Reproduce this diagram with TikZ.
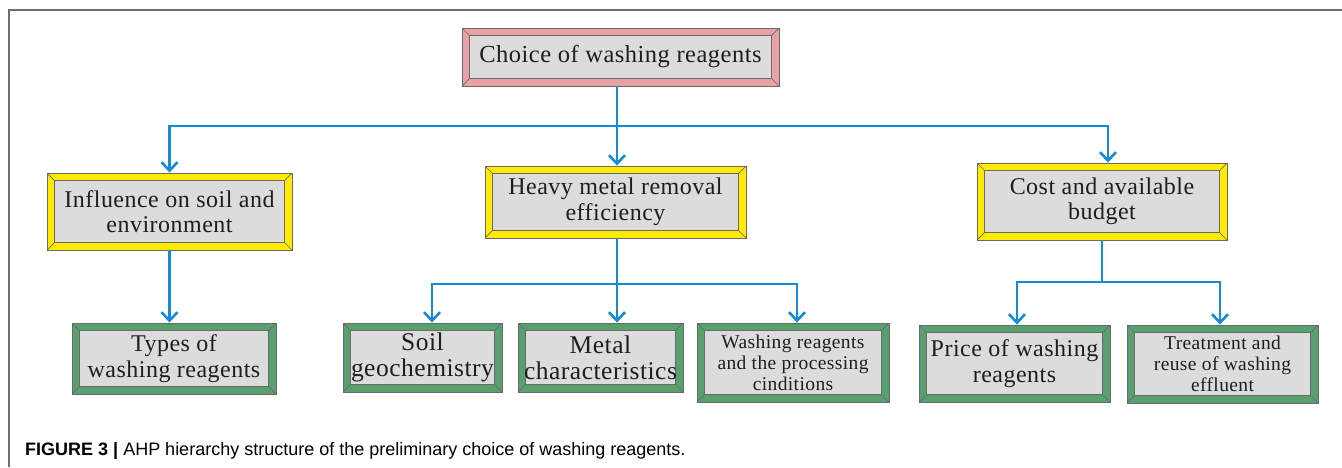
\documentclass[tikz,border=0pt]{standalone}
\usepackage{fontspec}
\setmainfont{Liberation Serif}[LetterSpace=2]
\newfontfamily\capfont{Liberation Sans}
\usetikzlibrary{arrows.meta}
\definecolor{bpink}{RGB}{232,162,166}
\definecolor{byellow}{RGB}{255,234,0}
\definecolor{bgreen}{RGB}{88,160,110}
\definecolor{boxgray}{RGB}{220,220,220}
\definecolor{bedge}{RGB}{105,105,105}
\definecolor{cblue}{RGB}{22,140,215}
\definecolor{txt}{RGB}{30,30,30}
\definecolor{framec}{RGB}{110,110,110}
\tikzset{
  bevel/.style={rectangle, draw=bedge, line width=0.9pt, fill=#1, inner sep=0pt, align=center, text=txt,
    path picture={
      \coordinate (pa) at (path picture bounding box.south west);
      \coordinate (pb) at (path picture bounding box.north east);
      \coordinate (pc) at (path picture bounding box.north west);
      \coordinate (pd) at (path picture bounding box.south east);
      \filldraw[fill=boxgray, draw=bedge, line width=0.7pt] ([shift={(7.5pt,7.5pt)}]pa) rectangle ([shift={(-7.5pt,-7.5pt)}]pb);
      \draw[bedge, line width=0.7pt] (pa) -- ([shift={(7.5pt,7.5pt)}]pa) (pb) -- ([shift={(-7.5pt,-7.5pt)}]pb)
        (pc) -- ([shift={(7.5pt,-7.5pt)}]pc) (pd) -- ([shift={(-7.5pt,7.5pt)}]pd);
    }},
  big/.style={font=\fontsize{24}{25.5}\selectfont},
  huge/.style={font=\fontsize{25.5}{26}\selectfont},
  small/.style={font=\fontsize{19.5}{21}\selectfont},
  conn/.style={draw=cblue, line width=2.6pt},
  arr/.style={conn, -{Straight Barb[length=8.5pt,width=16pt]}},
}
\begin{document}
\begin{tikzpicture}[x=1pt,y=-1pt]
\useasboundingbox (0,0) rectangle (1342,467);
\coordinate (f1) at (9,467);
\coordinate (f2) at (9,10);
\coordinate (f3) at (1342,10);
\draw[framec, line width=1.5pt] (f1) -- (f2) -- (f3);

\node[bevel=bpink, minimum width=317pt, minimum height=58pt, font=\fontsize{24.5}{26}\selectfont] (top) at (620.5,57) {Choice of washing reagents};

\node[bevel=byellow, minimum width=245pt, minimum height=77pt, big] (infl) at (169.5,211.5) {Influence on soil and\\environment};
\node[bevel=byellow, minimum width=261pt, minimum height=72pt, big] (heavy) at (615.5,202) {Heavy metal removal\\efficiency};
\node[bevel=byellow, minimum width=250pt, minimum height=77pt, big] (cost) at (1102,201.5) {Cost and available\\budget};

\node[bevel=bgreen, minimum width=204pt, minimum height=71pt, big] (types) at (174,358.5) {Types of\\washing reagents};
\node[bevel=bgreen, minimum width=159pt, minimum height=69pt, huge] (soil) at (422.5,357.5) {Soil\\geochemistry};
\node[bevel=bgreen, minimum width=165pt, minimum height=69pt, huge] (metal) at (600.5,357.5) {Metal\\characteristics};
\node[bevel=bgreen, minimum width=192pt, minimum height=79pt, small] (washr) at (793,362.5) {Washing reagents\\and the processing\\cinditions};
\node[bevel=bgreen, minimum width=191pt, minimum height=77pt, big] (price) at (1014.5,363.5) {Price of washing\\reagents};
\node[bevel=bgreen, minimum width=191pt, minimum height=78pt, small] (treat) at (1222.5,364) {Treatment and\\reuse of washing\\effluent};

% level 1 connectors
\coordinate (j1) at (617,126);
\draw[conn] (j1 |- top.south) -- (j1);
\draw[arr] (j1) -| (infl.north);
\draw[arr] (j1) -- (j1 |- heavy.north);
\draw[arr] (j1) -| ([xshift=6pt]cost.north);

% left branch
\draw[arr] (infl.south) -- (infl.south |- types.north);

% middle branch
\coordinate (j2) at (617,284);
\draw[conn] (j2 |- heavy.south) -- (j2);
\draw[arr] (j2) -| ([xshift=9.5pt]soil.north);
\draw[arr] (j2) -- (j2 |- metal.north);
\draw[arr] (j2) -| ([xshift=4pt]washr.north);

% right branch
\coordinate (j3) at (1102,282);
\draw[conn] (j3 |- cost.south) -- (j3);
\draw[arr] (j3) -| ([xshift=2.5pt]price.north);
\draw[arr] (j3) -| ([xshift=-2.5pt]treat.north);

\node[anchor=base west, font=\capfont\fontsize{18}{21}\selectfont, text=black, inner sep=0pt] (cap) at (25,455) {\textbf{FIGURE 3 |} AHP hierarchy structure of the preliminary choice of washing reagents.};
\end{tikzpicture}
\end{document}
